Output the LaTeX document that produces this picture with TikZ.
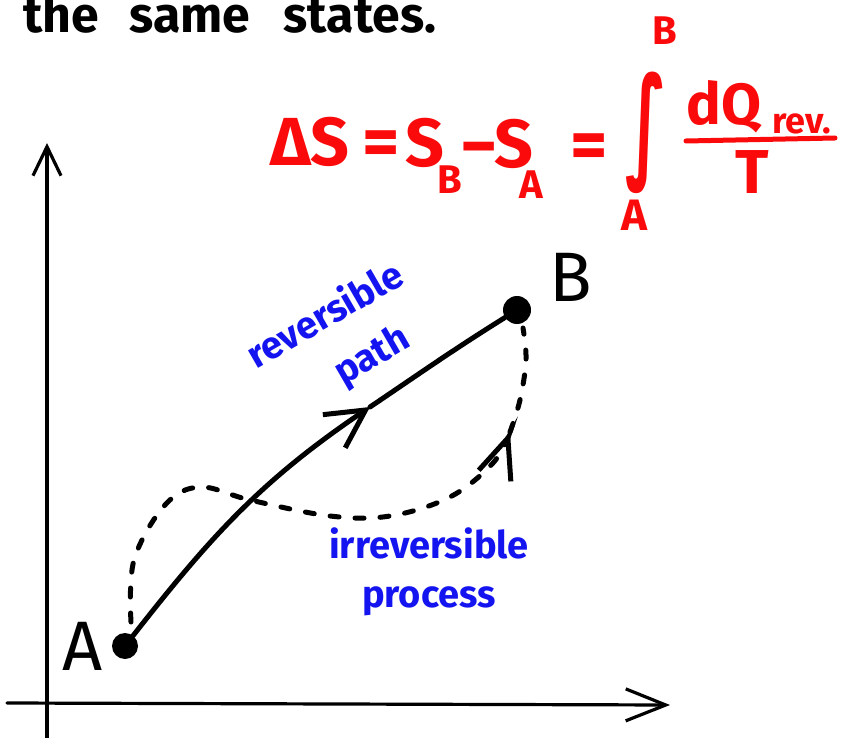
\documentclass[tikz,border=0pt]{standalone}
\usepackage{fontspec}
\setmainfont{Fira Sans}
\newfontfamily\djv{DejaVu Sans}
\usetikzlibrary{arrows.meta}
\newcommand\fsz[1]{\fontsize{#1}{#1}\selectfont}
\definecolor{hred}{RGB}{250,10,10}
\definecolor{hblue}{RGB}{20,20,240}
\tikzset{
  axisline/.style={line width=3.2pt, line cap=round},
  pathline/.style={line width=5pt, line cap=round},
  dashline/.style={line width=5pt, line cap=round, dash pattern=on 9pt off 16pt},
  dotnode/.style={circle, fill=black, inner sep=0pt},
  redtxt/.style={text=hred, inner sep=0pt},
  bluetxt/.style={text=hblue, inner sep=0pt, font=\fsz{38}\bfseries},
  lbl/.style={inner sep=0pt, font=\fsz{70}},
  toptxt/.style={anchor=base, inner sep=0pt, font=\fsz{50}\bfseries},
}
\begin{document}
\begin{tikzpicture}[x=1pt,y=1pt]
\useasboundingbox (0,0) rectangle (846,-738);
% top text
\node[toptxt] (w1) at (61,-33) {the};
\node[toptxt] (w2) at (190,-33) {same};
\node[toptxt] (w3) at (360,-33) {states.};
% axes
\coordinate (yb) at (47,-738);
\coordinate (yt) at (47,-143);
\coordinate (xl) at (7,-703);
\coordinate (xr) at (670,-705);
\draw[axisline, -{Straight Barb[length=29pt,width=28pt]}] (yb) -- (yt);
\draw[axisline, -{Straight Barb[length=40pt,width=32pt]}] (xl) -- (xr);
% states
\node[dotnode, minimum size=26pt] (A) at (125,-646) {};
\node[dotnode, minimum size=28pt] (B) at (517,-310) {};
\node[lbl] (LA) at (83,-646) {A};
\node[lbl] (LB) at (571,-277) {B};
% reversible path
\coordinate (M) at (370,-407);
\draw[pathline, -{Straight Barb[length=38pt,width=40pt]}] (A) to[out=52,in=214] (M);
\draw[pathline] (M) to[out=34,in=212] (B);
% irreversible process
\coordinate (T) at (510,-432);
\draw[dashline, -{Straight Barb[length=40pt,width=34pt]}] plot[smooth, tension=0.6] coordinates {(131,-622) (134,-560) (165,-505) (200,-487) (250,-500) (330,-516) (390,-516) (450,-497) (493,-463) (T)};
\draw[dashline] plot[smooth, tension=0.6] coordinates {(T) (520,-400) (526,-360) (523,-328)};
% blue labels
\node[bluetxt, rotate=30] (rev1) at (324,-313) {reversible};
\node[bluetxt, rotate=30] (rev2) at (373,-357) {path};
\node[bluetxt, anchor=base] (irr1) at (429,-558) {irreversible};
\node[bluetxt, anchor=base] (irr2) at (429,-607) {process};
% formula
\node[redtxt, font=\fsz{68}\bfseries, anchor=base west] (dS) at (270,-166) {ΔS};
\node[redtxt, font=\fsz{72}\bfseries, anchor=base] (eq1) at (381,-167) {=};
\node[redtxt, font=\fsz{68}\bfseries, anchor=base west] (SB) at (405,-167) {S};
\node[redtxt, font=\fsz{40}\bfseries, anchor=base west] (sB) at (437,-194) {B};
\node[redtxt, font=\fsz{72}\bfseries, anchor=base] (mi) at (479,-171) {−};
\node[redtxt, font=\fsz{68}\bfseries, anchor=base west] (SA) at (494,-168) {S};
\node[redtxt, font=\fsz{40}\bfseries, anchor=base west] (sA) at (519,-199) {A};
\node[redtxt, font=\fsz{72}\bfseries, anchor=base] (eq2) at (589,-170) {=};
\node[redtxt] (int) at (646,-133) {\scalebox{0.85}[1.55]{\djv\bfseries\fsz{80}∫}};
\node[redtxt, font=\fsz{40}\bfseries] (upB) at (665,-31) {B};
\node[redtxt, font=\fsz{44}\bfseries] (loA) at (634,-215) {A};
\node[redtxt, font=\fsz{58}\bfseries, anchor=base west] (dQ) at (686,-125) {dQ};
\node[redtxt, font=\fsz{36}\bfseries, anchor=base west] (rv) at (772,-134) {rev.};
\coordinate (b1) at (686,-141);
\coordinate (b2) at (835,-138);
\draw[hred, line width=5pt, line cap=round] (b1) -- (b2);
\node[redtxt, font=\fsz{62}\bfseries] (Tt) at (752,-172) {T};
\end{tikzpicture}
\end{document}
